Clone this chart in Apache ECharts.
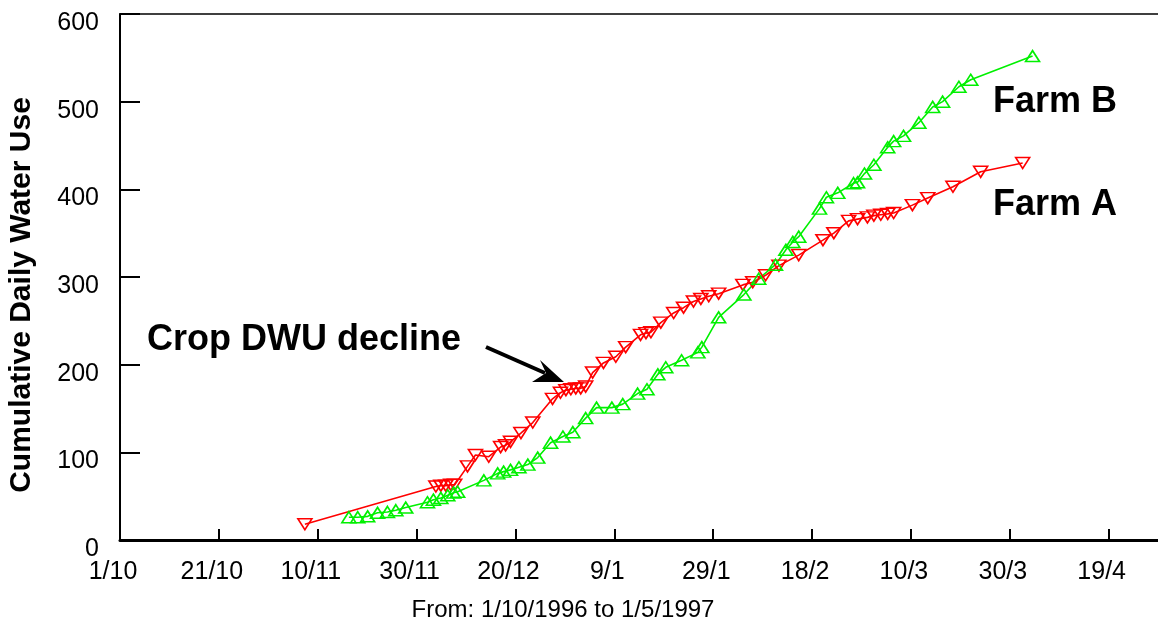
<!DOCTYPE html>
<html>
<head>
<meta charset="utf-8">
<script src="https://cdn.jsdelivr.net/npm/echarts@6/dist/echarts.min.js"></script>
<style>html,body{margin:0;padding:0;background:#fff;}#c{width:1158px;height:623px;}</style>
</head>
<body>
<div id="c"></div>
<script>
// days since 1/10/1996
var tickLabels = ['1/10','21/10','10/11','30/11','20/12','9/1','29/1','18/2','10/3','30/3','19/4'];
var farmADays = [37.4,63.9,64.9,65.9,66.9,67.7,70.3,71.9,74.6,77.0,78.0,79.0,81.1,83.5,87.5,89.1,90.2,91.2,92.2,93.2,94.2,95.6,97.8,100.3,102.3,105.3,106.4,107.4,109.4,112.0,114.0,116.0,117.5,119.1,121.1,126.0,128.0,130.6,133.3,137.3,142.2,144.4,147.4,149.2,151.2,152.5,153.9,155.3,156.5,160.3,163.4,168.5,174.1,182.6];
var farmAValues = [18,61,62,62,63,63,84,97,95,106,108,112,122,134,161,168,171,172,173,173,175,191,202,209,220,234,236,237,248,259,265,272,275,278,281,291,294,302,313,325,342,350,364,366,368,370,371,372,373,382,390,403,420,430];
var farmBDays = [46.3,48.1,50.1,52.1,54.1,55.8,57.8,62.2,63.4,64.9,66.3,67.5,68.3,73.6,76.4,77.6,79.0,80.7,82.5,84.5,87.1,89.6,91.6,94.2,96.4,99.5,101.7,104.7,106.6,108.8,110.4,113.6,116.9,117.7,121.1,126.2,129.2,132.6,134.7,136.1,137.3,141.5,142.9,145.2,148.4,149.2,150.6,152.5,155.3,156.5,158.5,161.6,164.4,166.4,169.7,172.1,184.6];
var farmBValues = [26,26,27,31,32,34,37,43,46,48,51,54,55,68,76,78,80,83,86,94,111,118,123,139,151,151,155,167,172,189,197,205,214,220,254,280,298,314,331,340,346,378,391,396,407,408,418,428,448,455,461,476,494,500,517,525,552];

function zip(a, b) { return a.map(function (d, i) { return [d, b[i]]; }); }

var chart = echarts.init(document.getElementById('c'), null, {renderer: 'canvas'});
var FONT = 'Liberation Sans, Arial, sans-serif';
var RED = '#ff0000', GREEN = '#00f000';
chart.setOption({
  animation: false,
  backgroundColor: '#fff',
  grid: {left: 120, top: 14, bottom: 83, right: -10, containLabel: false, outerBoundsMode: 'none'},
  xAxis: [{
    type: 'value', min: 0, max: 212, interval: 20,
    name: 'From: 1/10/1996 to 1/5/1997', nameLocation: 'middle', nameGap: 58,
    nameTextStyle: {color: '#000', fontSize: 24, fontFamily: FONT, padding: [0, 162, 0, 0]},
    axisLine: {lineStyle: {color: '#000', width: 3}},
    axisTick: {inside: true, length: 11, lineStyle: {color: '#000', width: 2}},
    splitLine: {show: false},
    axisLabel: {
      color: '#000', fontSize: 25, fontFamily: FONT, margin: 20, padding: [0, 14, 0, 0],
      showMaxLabel: false,
      formatter: function (v) { var i = Math.round(v / 20); return (v % 20 === 0 && tickLabels[i]) ? tickLabels[i] : ''; }
    }
  }, {
    type: 'value', min: 0, max: 212, position: 'top',
    axisLine: {show: true, lineStyle: {color: '#000', width: 1.5}},
    axisTick: {show: false}, axisLabel: {show: false}, splitLine: {show: false}
  }],
  yAxis: {
    type: 'value', min: 0, max: 600, interval: 100,
    name: 'Cumulative Daily Water Use', nameLocation: 'middle', nameGap: 83,
    nameTextStyle: {color: '#000', fontSize: 30, fontWeight: 'bold', fontFamily: FONT, padding: [0, 36, 0, 0]},
    axisLine: {show: true, lineStyle: {color: '#000', width: 2}},
    axisTick: {inside: true, length: 20, lineStyle: {color: '#000', width: 2}},
    splitLine: {show: false},
    axisLabel: {color: '#000', fontSize: 25, fontFamily: FONT, margin: 21, verticalAlign: 'top', lineHeight: 18}
  },
  series: [{
    name: 'Farm A', type: 'line', data: zip(farmADays, farmAValues),
    symbol: 'triangle', symbolRotate: 180, symbolSize: [14, 11],
    lineStyle: {color: RED, width: 1.6},
    itemStyle: {color: 'rgba(255,255,255,0)', borderColor: RED, borderWidth: 1.6}
  }, {
    name: 'Farm B', type: 'line', data: zip(farmBDays, farmBValues),
    symbol: 'triangle', symbolSize: [14, 11],
    lineStyle: {color: GREEN, width: 1.6},
    itemStyle: {color: 'rgba(255,255,255,0)', borderColor: GREEN, borderWidth: 1.6}
  }],
  graphic: [
    {type: 'text', left: 993, top: 84, style: {text: 'Farm B', font: 'bold 36px ' + FONT, fill: '#000'}},
    {type: 'text', left: 993, top: 187, style: {text: 'Farm A', font: 'bold 36px ' + FONT, fill: '#000'}},
    {type: 'text', left: 147, top: 322, style: {text: 'Crop DWU decline', font: 'bold 36px ' + FONT, fill: '#000'}},
    {type: 'line', shape: {x1: 486, y1: 347, x2: 545, y2: 373}, style: {stroke: '#000', lineWidth: 4}},
    {type: 'polygon', shape: {points: [[564, 382], [540, 360], [546, 373], [532, 382]]}, style: {fill: '#000'}}
  ]
});
</script>
</body>
</html>
